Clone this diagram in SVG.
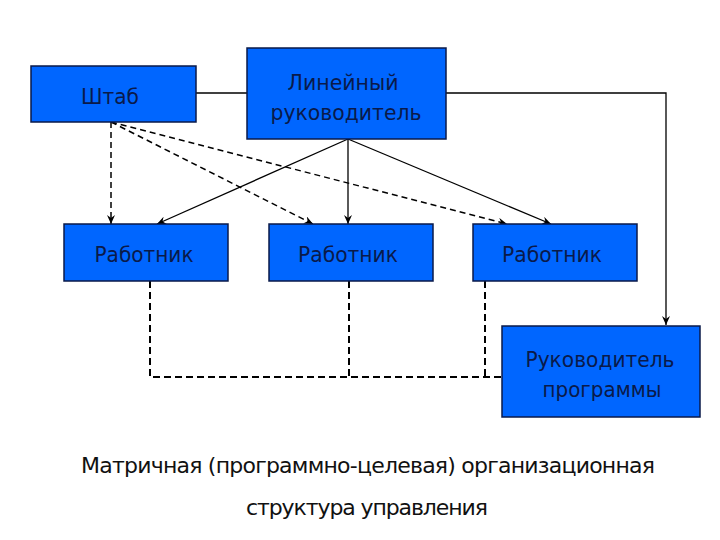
<svg xmlns="http://www.w3.org/2000/svg" width="720" height="540" viewBox="0 0 720 540">
<style>
.box{fill:#0066ff;stroke:#0a1a4a;stroke-width:1.5}
.lbl{font-family:"DejaVu Sans","Verdana",sans-serif;font-size:22px;fill:#0a1a4a;text-anchor:middle}
.cap{font-family:"DejaVu Sans","Verdana",sans-serif;font-size:22px;fill:#111;text-anchor:start}
.solid{stroke:#000;stroke-width:1.3;fill:none}
.dash{stroke:#000;stroke-width:1.5;fill:none;stroke-dasharray:6 4}
.dashb{stroke:#000;stroke-width:2;fill:none;stroke-dasharray:7 4}
</style>
<defs>
<marker id="ah" markerWidth="10" markerHeight="8" refX="9" refY="4" orient="auto" markerUnits="userSpaceOnUse">
<path d="M0,0 L9,4 L0,8 L3,4 Z" fill="#000"/>
</marker>
</defs>
<rect width="720" height="540" fill="#fff"/>
<g id="connectors">
<line class="solid" x1="196" y1="93" x2="247" y2="93"/>
<polyline class="solid" points="446,93 666,93 666,325" marker-end="url(#ah)" stroke-width="1.6"/>
<line class="solid" x1="348" y1="139" x2="157" y2="224" marker-end="url(#ah)"/>
<line class="solid" x1="348" y1="139" x2="348" y2="224" marker-end="url(#ah)"/>
<line class="solid" x1="348" y1="139" x2="551" y2="224" marker-end="url(#ah)"/>
<line class="dash" x1="111" y1="122" x2="111" y2="224" stroke-width="1" stroke-dasharray="4 3" marker-end="url(#ah)"/>
<line class="dash" x1="111" y1="122" x2="313" y2="224" marker-end="url(#ah)"/>
<line class="dash" x1="111" y1="122" x2="507" y2="224" marker-end="url(#ah)"/>
<polyline class="dashb" points="150,281 150,377 502,377"/>
<line class="dashb" x1="349" y1="281" x2="349" y2="377"/>
<line class="dashb" x1="485" y1="281" x2="485" y2="377"/>
</g>
<g id="shtab">
<rect class="box" x="31" y="66" width="165" height="56"/>
<text class="lbl" x="110" y="104" textLength="58" lengthAdjust="spacingAndGlyphs">Штаб</text>
</g>
<g id="lineyny">
<rect class="box" x="247" y="48" width="199" height="91"/>
<text class="lbl" x="343" y="90" textLength="111" lengthAdjust="spacingAndGlyphs">Линейный</text>
<text class="lbl" x="346" y="120" textLength="151" lengthAdjust="spacingAndGlyphs">руководитель</text>
</g>
<g id="rabotnik1">
<rect class="box" x="64" y="224" width="164" height="57"/>
<text class="lbl" x="144" y="262" textLength="99" lengthAdjust="spacingAndGlyphs">Работник</text>
</g>
<g id="rabotnik2">
<rect class="box" x="269" y="224" width="164" height="57"/>
<text class="lbl" x="348" y="262" textLength="100" lengthAdjust="spacingAndGlyphs">Работник</text>
</g>
<g id="rabotnik3">
<rect class="box" x="473" y="224" width="164" height="57"/>
<text class="lbl" x="552" y="262" textLength="100" lengthAdjust="spacingAndGlyphs">Работник</text>
</g>
<g id="rukprog">
<rect class="box" x="502" y="326" width="198" height="91"/>
<text class="lbl" x="600" y="367" textLength="149" lengthAdjust="spacingAndGlyphs">Руководитель</text>
<text class="lbl" x="602" y="397" textLength="119" lengthAdjust="spacingAndGlyphs">программы</text>
</g>
<g id="caption">
<text class="cap" x="81" y="473" textLength="574">Матричная (программно-целевая) организационная</text>
<text class="cap" x="246" y="515" textLength="242">структура управления</text>
</g>
</svg>
